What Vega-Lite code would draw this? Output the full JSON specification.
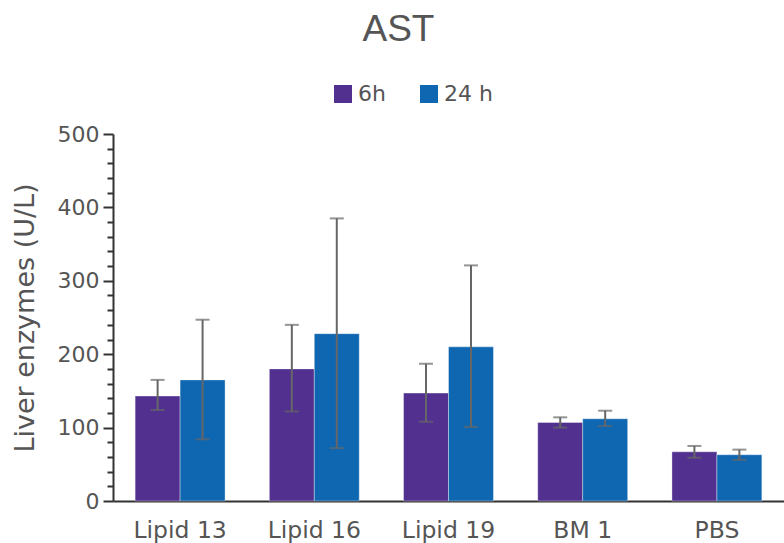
{
  "$schema": "https://vega.github.io/schema/vega-lite/v6.json",
  "width": 671,
  "height": 367,
  "autosize": {"type": "none"},
  "padding": {"left": 113, "top": 134, "right": 0, "bottom": 42},
  "background": "white",
  "title": {
    "text": "AST",
    "font": "Liberation Sans",
    "fontSize": 37,
    "fontWeight": "normal",
    "color": "#555555",
    "anchor": "middle",
    "dx": -50,
    "offset": 34
  },
  "config": {
    "view": {"stroke": null},
    "font": "DejaVu Sans"
  },
  "resolve": {"axis": {"y": "independent"}},
  "data": {
    "values": [
      {"group": "Lipid 13", "time": "6h", "value": 143, "lo": 124, "hi": 165},
      {"group": "Lipid 13", "time": "24 h", "value": 165, "lo": 84, "hi": 247},
      {"group": "Lipid 16", "time": "6h", "value": 180, "lo": 122, "hi": 240},
      {"group": "Lipid 16", "time": "24 h", "value": 228, "lo": 72, "hi": 385},
      {"group": "Lipid 19", "time": "6h", "value": 147, "lo": 108, "hi": 187},
      {"group": "Lipid 19", "time": "24 h", "value": 210, "lo": 101, "hi": 321},
      {"group": "BM 1", "time": "6h", "value": 107, "lo": 100, "hi": 114},
      {"group": "BM 1", "time": "24 h", "value": 112, "lo": 102, "hi": 123},
      {"group": "PBS", "time": "6h", "value": 67, "lo": 59, "hi": 75},
      {"group": "PBS", "time": "24 h", "value": 63, "lo": 56, "hi": 70}
    ]
  },
  "encoding": {
    "x": {
      "field": "group",
      "type": "nominal",
      "sort": ["Lipid 13", "Lipid 16", "Lipid 19", "BM 1", "PBS"],
      "scale": {"paddingInner": 0.33, "paddingOuter": 0.165},
      "axis": {
        "title": null,
        "labelAngle": 0,
        "labelFontSize": 23.5,
        "labelColor": "#555555",
        "labelPadding": 17,
        "ticks": false,
        "domainColor": "#333333",
        "domainWidth": 2
      }
    },
    "xOffset": {
      "field": "time",
      "type": "nominal",
      "sort": ["6h", "24 h"]
    }
  },
  "layer": [
    {
      "mark": {"type": "bar", "stroke": "#ffffff", "strokeOpacity": 0.35, "strokeWidth": 1},
      "encoding": {
        "y": {
          "field": "value",
          "type": "quantitative",
          "scale": {"domain": [0, 500], "nice": false},
          "axis": {
            "title": "Liver enzymes (U/L)",
            "titleFontSize": 27,
            "titleFontWeight": "normal",
            "titleColor": "#555555",
            "titlePadding": 18,
            "values": [0, 20, 40, 60, 80, 100, 120, 140, 160, 180, 200, 220, 240, 260, 280, 300, 320, 340, 360, 380, 400, 420, 440, 460, 480, 500],
            "labelExpr": "datum.value % 100 === 0 ? datum.label : ''",
            "labelOverlap": false,
            "labelFlush": false,
            "labelFontSize": 22,
            "labelColor": "#555555",
            "labelPadding": 4,
            "grid": false,
            "tickSize": {"condition": {"test": "datum.value % 100 === 0", "value": 10}, "value": 6},
            "tickColor": "#333333",
            "tickWidth": 2,
            "domainColor": "#333333",
            "domainWidth": 2
          }
        },
        "color": {
          "field": "time",
          "type": "nominal",
          "sort": ["6h", "24 h"],
          "scale": {"domain": ["6h", "24 h"], "range": ["#51308f", "#0f67b1"]},
          "legend": {
            "title": null,
            "orient": "none",
            "direction": "horizontal",
            "legendX": 219,
            "legendY": -51,
            "symbolType": "square",
            "symbolSize": 324,
            "symbolStrokeWidth": 0,
            "labelFontSize": 22,
            "labelColor": "#555555",
            "labelOffset": 4,
            "columnPadding": 32,
            "padding": 0
          }
        }
      }
    },
    {
      "mark": {"type": "rule", "color": "#666666", "strokeWidth": 2},
      "encoding": {
        "y": {"field": "lo", "type": "quantitative", "axis": null},
        "y2": {"field": "hi"}
      }
    },
    {
      "mark": {"type": "tick", "color": "#666666", "thickness": 2, "size": 14, "orient": "horizontal"},
      "encoding": {"y": {"field": "hi", "type": "quantitative", "axis": null}}
    },
    {
      "mark": {"type": "tick", "color": "#666666", "thickness": 2, "size": 14, "orient": "horizontal"},
      "encoding": {"y": {"field": "lo", "type": "quantitative", "axis": null}}
    }
  ]
}
